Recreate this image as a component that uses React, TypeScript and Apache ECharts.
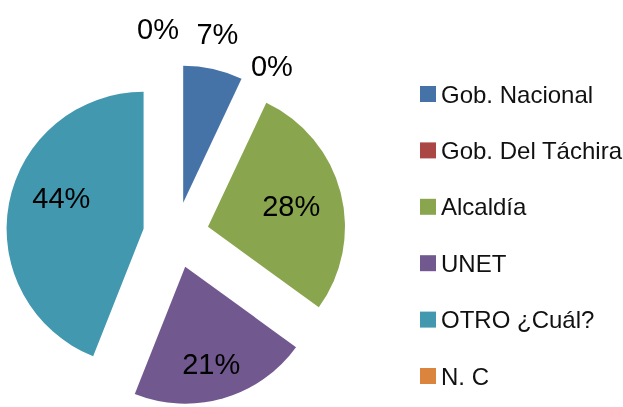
import React, { useEffect, useRef } from "react";
import * as echarts from "echarts";

const categories = ["Gob. Nacional", "Gob. Del Táchira", "Alcaldía", "UNET", "OTRO ¿Cuál?", "N. C"];
const values = [7, 0, 28, 21, 44, 0];
const colors = ["#4572A7", "#AA4643", "#89A54E", "#71588F", "#4198AF", "#DB843D"];
const labelOutside = [true, true, false, false, false, true];

// label nudges (style only): [dx, dy] per slice
const LABEL_SHIFT: number[][] = [
  [-5, -16],
  [10, 3],
  [14, -3],
  [6, 29],
  [-12, -17],
  [-13, -16],
];

export default function App() {
  const ref = useRef<HTMLDivElement>(null);
  useEffect(() => {
    if (!ref.current) return;
    const chart = echarts.init(ref.current, undefined, { renderer: "svg" });
    const data = categories.map((name, i) => ({
      name,
      value: values[i],
      selected: true,
      itemStyle: { color: colors[i] },
      label: { position: labelOutside[i] ? "outside" : "inside" },
      labelLine: labelOutside[i]
        ? { show: true, length: 20, length2: 0, lineStyle: { opacity: 0 } }
        : { show: false },
    }));
    chart.setOption({
      animation: false,
      legend: {
        orient: "vertical",
        left: 415,
        top: 77,
        itemWidth: 16,
        itemHeight: 16,
        itemGap: 32.4,
        icon: "rect",
        selectedMode: false,
        data: categories,
        textStyle: { fontSize: 24, color: "#111", fontFamily: "Liberation Sans" },
      },
      series: [
        {
          type: "pie",
          center: [176, 235],
          radius: 137,
          startAngle: 90,
          clockwise: true,
          selectedMode: "multiple",
          selectedOffset: 33,
          avoidLabelOverlap: false,
          stillShowZeroSum: true,
          emphasis: { disabled: true },
          itemStyle: { borderWidth: 0 },
          label: {
            show: true,
            formatter: (p: any) => Math.round(p.percent) + "%",
            fontSize: 29,
            color: "#000",
            fontFamily: "Liberation Sans",
            distanceToLabelLine: 5,
          },
          labelLayout: (p: any) => {
            const s = LABEL_SHIFT[p.dataIndex];
            const o: any = { dx: s[0], dy: s[1] };
            if (labelOutside[p.dataIndex]) o.align = "center";
            return o;
          },
          data,
        },
      ],
    });
    return () => chart.dispose();
  }, []);
  return <div ref={ref} style={{ position: "fixed", left: 0, top: 0, width: 623, height: 407 }} />;
}
